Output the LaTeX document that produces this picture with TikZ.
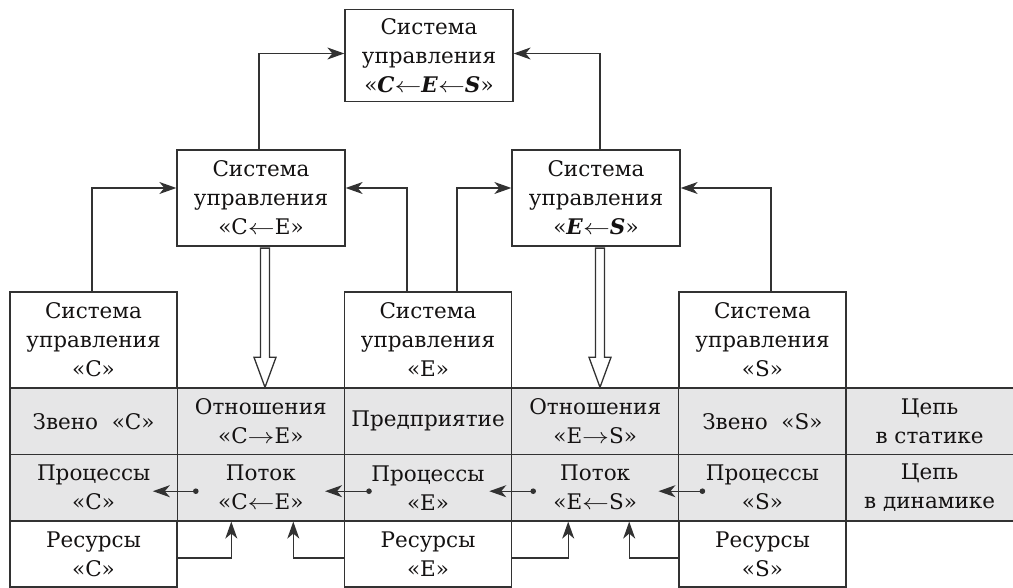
\RequirePackage{fix-cm}
\documentclass[tikz,border=0pt]{standalone}
\usepackage{fontspec}
\setmainfont{DejaVu Serif}
\usetikzlibrary{arrows.meta,calc}
\definecolor{lc}{RGB}{50,50,50}
\definecolor{tc}{RGB}{20,18,18}
\definecolor{gf}{RGB}{230,230,231}
\newcommand{\la}{\scalebox{1.25}[1]{$\leftarrow$}}
\newcommand{\ra}{\scalebox{1.25}[1]{$\rightarrow$}}
\newcommand{\bi}[1]{\textbf{\textit{#1}}}
\begin{document}
\begin{tikzpicture}[x=1pt,y=-1pt,
  every node/.style={text=tc},
  box/.style={draw=lc, line width=1.3pt, inner sep=0pt, align=center,
    font=\fontsize{21.5}{29}\selectfont},
  sysbox/.style={box, minimum width=167pt, minimum height=96pt, fill=white},
  midbox/.style={box, minimum width=168pt, minimum height=96pt, fill=white},
  graycell/.style={box, minimum width=167.2pt, minimum height=66.5pt, fill=gf},
  rescell/.style={box, minimum width=167pt, minimum height=66pt, fill=white},
  arr/.style={draw=lc, line width=1.3pt, -{Stealth[length=17pt,width=12pt,inset=5pt]}},
  darr/.style={draw=lc, line width=1.3pt, {Circle[length=5.5pt]}-{Stealth[length=17pt,width=12pt,inset=5pt]}},
  hollow/.style={draw=lc, line width=1.3pt, fill=white},
]
\useasboundingbox (0,0) rectangle (1013,588);

% top
\node[box, minimum width=168pt, minimum height=92pt, fill=white] (top) at (429,55.5)
  {Система\\управления\\«\bi{C}\la\bi{E}\la\bi{S}»};
% middle
\node[midbox] (mCE) at (261,198) {Система\\управления\\«C\la E»};
\node[midbox] (mES) at (596,198) {Система\\управления\\«\bi{E}\la\bi{S}»};

% system row
\node[sysbox] (sC) at (93.5,340) {Система\\управления\\«C»};
\node[sysbox] (sE) at (428,340) {Система\\управления\\«E»};
\node[sysbox] (sS) at (762.5,340) {Система\\управления\\«S»};

% gray row 1
\node[graycell] (r1a) at (93.6,421.2) {Звено~~«C»};
\node[graycell] (r1b) at (260.8,421.2) {Отношения\\«C\ra E»};
\node[graycell] (r1c) at (428,421.2) {Предприятие};
\node[graycell] (r1d) at (595.2,421.2) {Отношения\\«E\ra S»};
\node[graycell] (r1e) at (762.4,421.2) {Звено~~«S»};
\node[graycell] (r1f) at (929.6,421.2) {Цепь\\в статике};
% gray row 2
\node[graycell] (r2a) at (93.6,487.7) {Процессы\\«C»};
\node[graycell] (r2b) at (260.8,487.7) {Поток\\«C\la E»};
\node[graycell] (r2c) at (428,487.7) {Процессы\\«E»};
\node[graycell] (r2d) at (595.2,487.7) {Поток\\«E\la S»};
\node[graycell] (r2e) at (762.4,487.7) {Процессы\\«S»};
\node[graycell] (r2f) at (929.6,487.7) {Цепь\\в динамике};

% resources
\node[rescell] (rC) at (93.5,554) {Ресурсы\\«C»};
\node[rescell] (rE) at (428,554) {Ресурсы\\«E»};
\node[rescell] (rS) at (762.5,554) {Ресурсы\\«S»};

% arrows to top
\draw[arr] ([xshift=-2pt]mCE.north) |- ([yshift=2pt]top.west);
\draw[arr] ([xshift=4pt]mES.north) |- ([yshift=2pt]top.east);
% arrows to middle
\draw[arr] ([xshift=-1.5pt]sC.north) |- ([yshift=10pt]mCE.west);
\draw[arr] ([xshift=-21pt]sE.north) |- ([yshift=10pt]mCE.east);
\draw[arr] ([xshift=29pt]sE.north) |- ([yshift=10pt]mES.west);
\draw[arr] ([xshift=8.5pt]sS.north) |- ([yshift=10pt]mES.east);

% hollow arrows
\foreach \m/\c in {mCE/r1b, mES/r1d}{
  \path ([xshift=4pt]\m.south) coordinate (a) (a |- \c.north) coordinate (t);
  \draw[hollow] ([xshift=-4.5pt,yshift=-1.5pt]a) -- ([xshift=-4.5pt,yshift=30pt]t)
    -- ([xshift=-11pt,yshift=30pt]t) -- (t) -- ([xshift=11pt,yshift=30pt]t)
    -- ([xshift=4.5pt,yshift=30pt]t) -- ([xshift=4.5pt,yshift=-1.5pt]a) -- cycle;
}

% flow arrows in row 2
\draw[darr] ([xshift=22pt,yshift=-3.5pt]r2b.west) -- ([xshift=-25pt,yshift=-3.5pt]r2a.east);
\draw[darr] ([xshift=28pt,yshift=-3.5pt]r2c.west) -- ([xshift=-20pt,yshift=-3.5pt]r2b.east);
\draw[darr] ([xshift=25pt,yshift=-3.5pt]r2d.west) -- ([xshift=-23pt,yshift=-3.5pt]r2c.east);
\draw[darr] ([xshift=27pt,yshift=-3.5pt]r2e.west) -- ([xshift=-21pt,yshift=-3.5pt]r2d.east);

% resources arrows
\draw[arr] ([yshift=-4pt]rC.east) -| ([xshift=-29.5pt]r2b.south);
\draw[arr] ([yshift=-4pt]rE.west) -| ([xshift=32.5pt]r2b.south);
\draw[arr] ([yshift=-4pt]rE.east) -| ([xshift=-27pt]r2d.south);
\draw[arr] ([yshift=-4pt]rS.west) -| ([xshift=34pt]r2d.south);
\end{tikzpicture}
\end{document}
